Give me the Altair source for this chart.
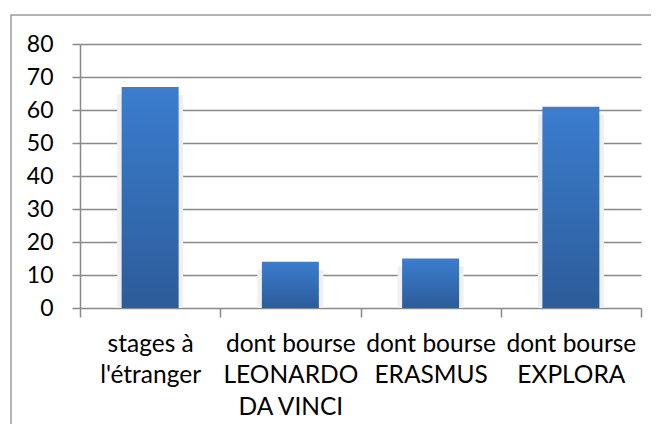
import altair as alt
import pandas as pd

categories = ["stages à\nl'étranger", "dont bourse\nLEONARDO\nDA VINCI", "dont bourse\nERASMUS", "dont bourse\nEXPLORA"]
values = [67, 14, 15, 61]
y_ticks = [0, 10, 20, 30, 40, 50, 60, 70, 80]

df = pd.DataFrame({"cat": categories, "v": values})

GRID = "#898989"
FONT = "Lato"

x_scale = alt.Scale(domain=categories, paddingInner=0, paddingOuter=0)
y_scale = alt.Scale(domain=[0, 80], nice=False)

x_axis = alt.Axis(
    labelAngle=0, labelExpr="split(datum.label, '\\n')", tickBand="extent",
    domain=False, tickColor=GRID, tickWidth=1.5, tickSize=9, grid=False,
    labelFont=FONT, labelFontSize=24.5, labelLineHeight=31.5,
    labelColor="#000000", labelPadding=15, labelBaseline="top",
    labelAlign="center", labelOverlap=False,
)
y_axis = alt.Axis(values=y_ticks, grid=True, gridColor=GRID, gridWidth=1.5,
                  domainColor=GRID, domainWidth=1.5, tickColor=GRID,
                  tickWidth=1.5, tickSize=8, labelFont=FONT,
                  labelFontSize=23, labelColor="#000000", labelPadding=19,
                  labelOverlap=False)

bars = alt.Chart(df).mark_bar(
    size=57,
    color=alt.Gradient(
        gradient="linear",
        stops=[alt.GradientStop(color="#3B7DCF", offset=0),
               alt.GradientStop(color="#2C5C99", offset=1)],
        x1=0, x2=0, y1=0, y2=1,
    ),
).encode(
    x=alt.X("cat:N", sort=categories, title=None, scale=x_scale, axis=x_axis),
    y=alt.Y("v:Q", title=None, scale=y_scale, axis=y_axis),
)

shadow = alt.Chart(df).transform_calculate(top2="datum.v - 2.4").mark_bar(
    size=66, color="#F0F0F0"
).encode(
    x=alt.X("cat:N", sort=categories, title=None, scale=x_scale, axis=x_axis),
    y=alt.Y("top2:Q", title=None, scale=y_scale, axis=y_axis),
    y2=alt.datum(0),
)

border = alt.Chart(pd.DataFrame({"k": [0]})).mark_rect(
    fillOpacity=0, stroke="#9C9C9C", strokeWidth=1.5
).encode(
    x=alt.value(-69), x2=alt.value(600), y=alt.value(-29), y2=alt.value(420)
)

chart = alt.layer(border, shadow, bars).properties(
    width=561, height=264,
    background="white",
    autosize=alt.AutoSizeParams(type="none"),
    padding={"left": 72, "top": 36, "right": 10, "bottom": 116},
).configure_view(stroke=None)

chart.save("out.html", embed_options={"renderer": "svg", "actions": False})
